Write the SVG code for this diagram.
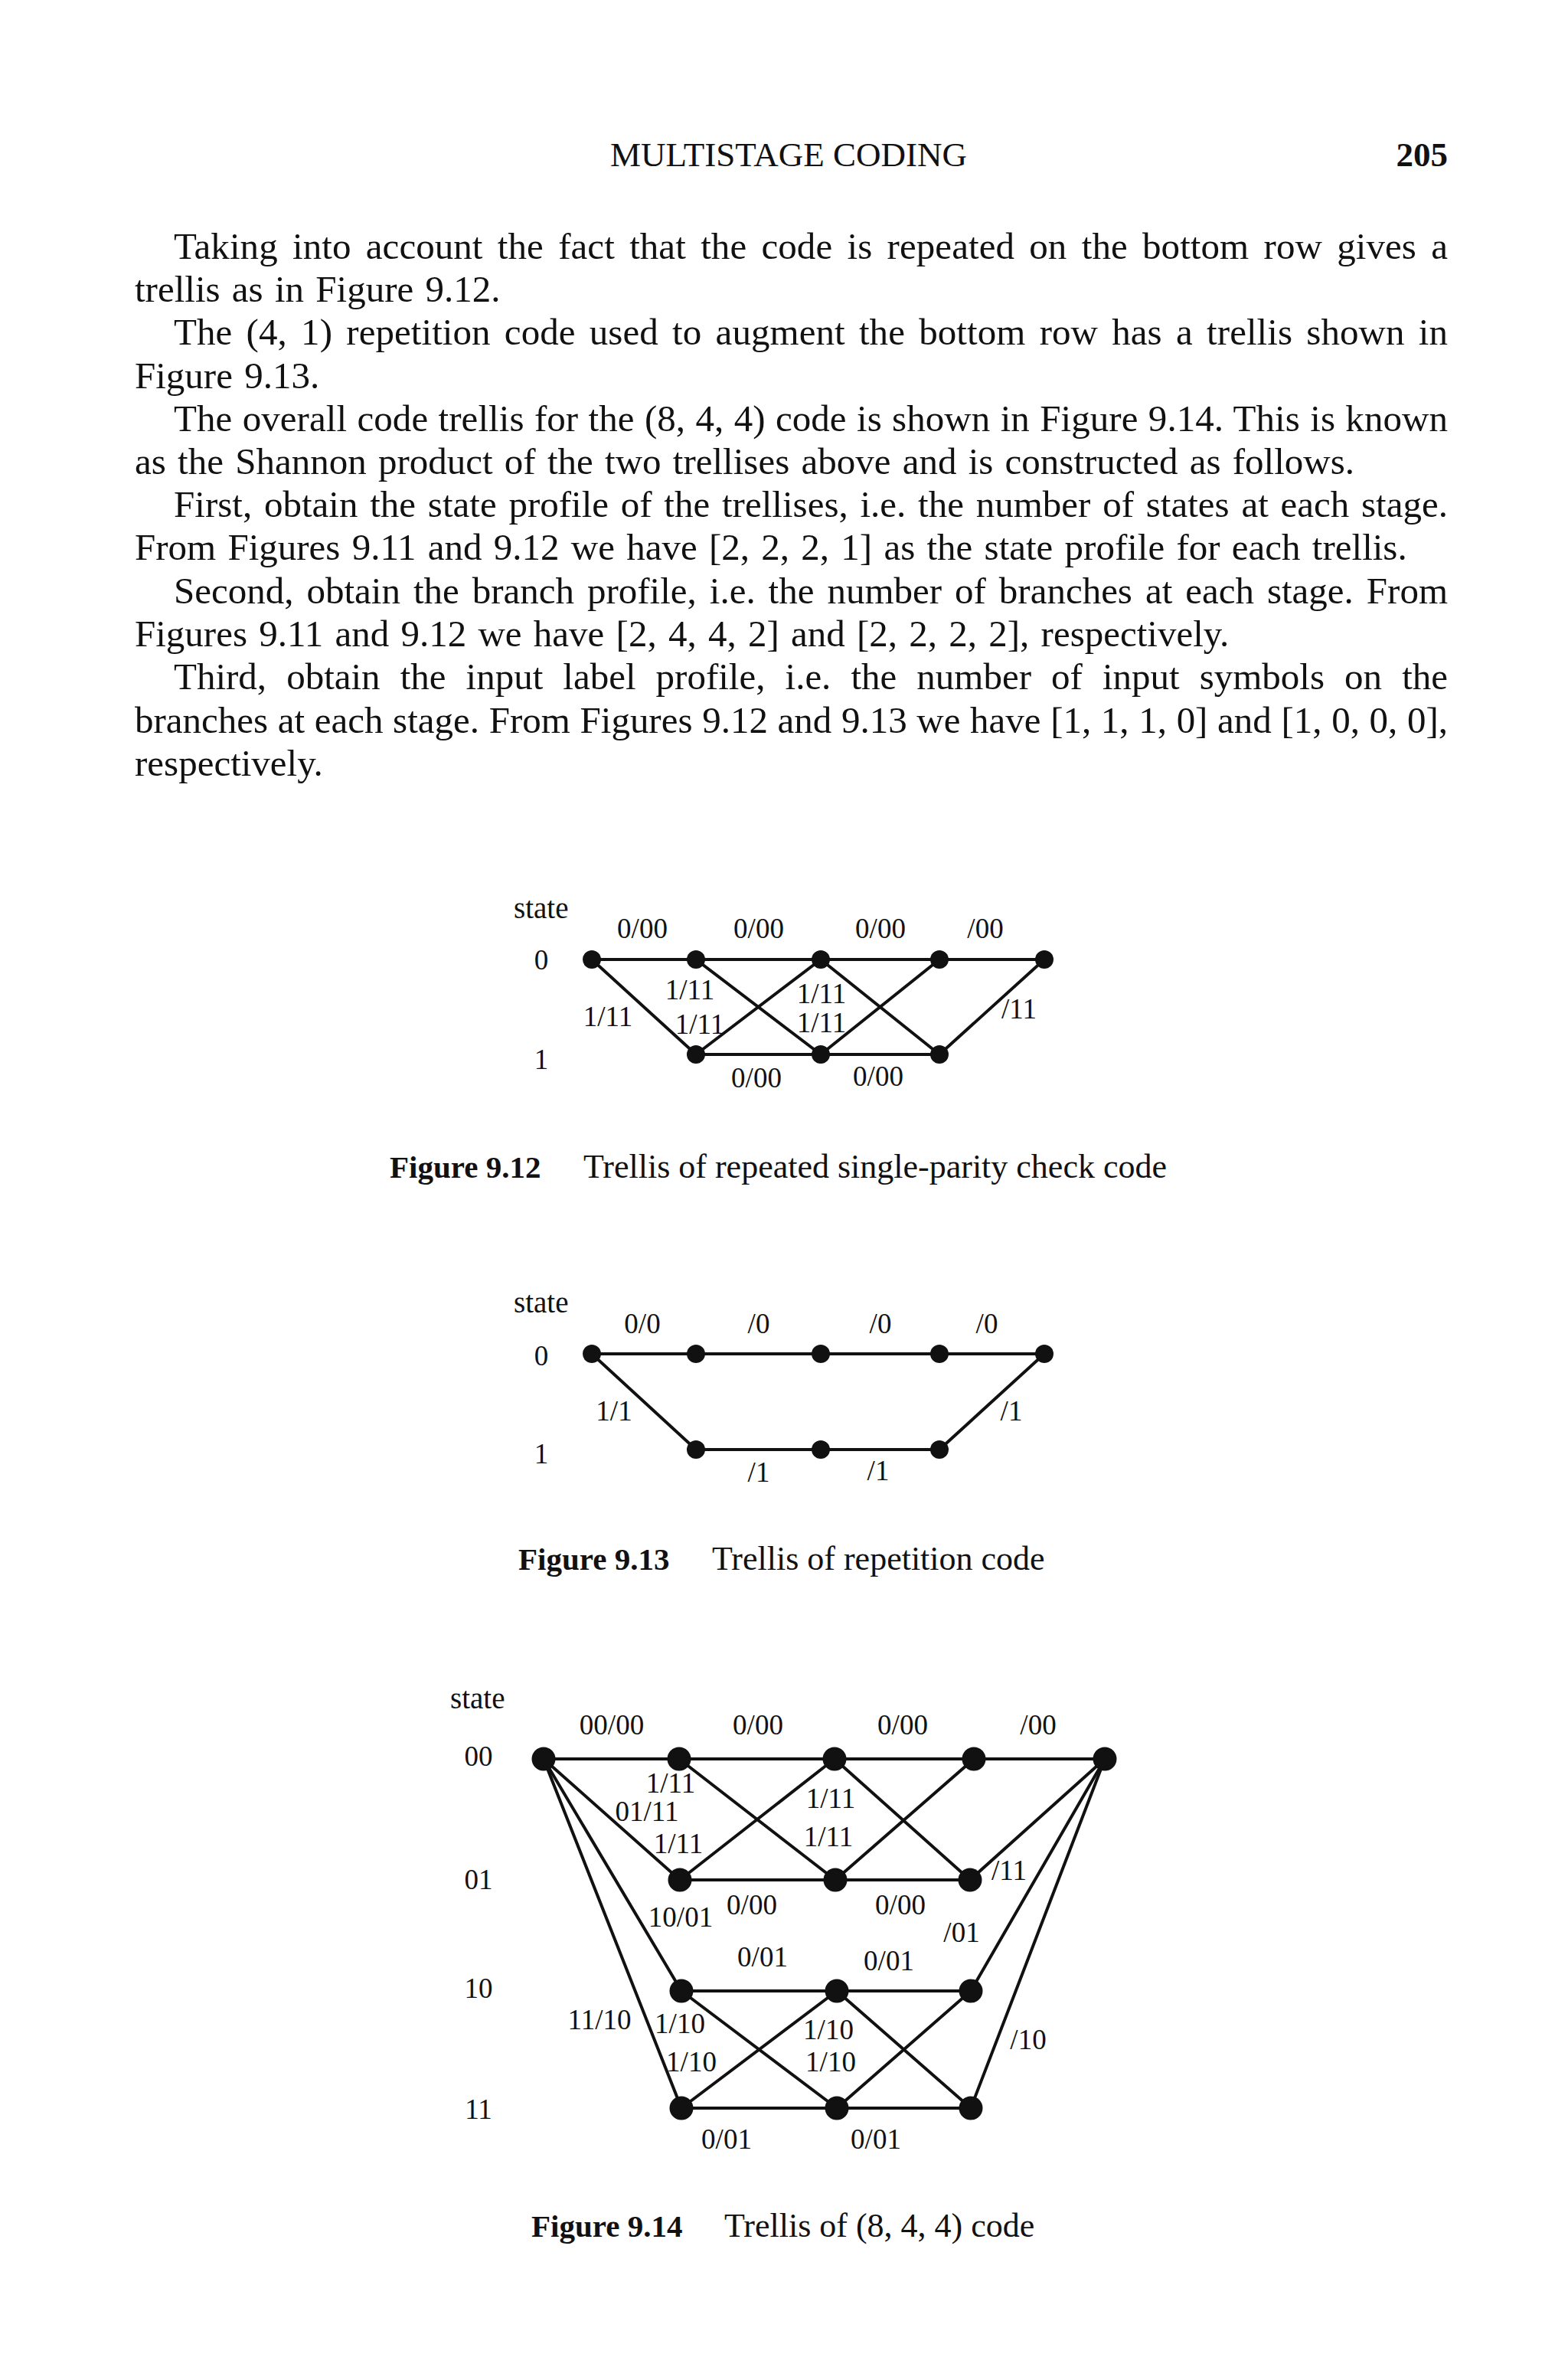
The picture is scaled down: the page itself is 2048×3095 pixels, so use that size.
<svg xmlns="http://www.w3.org/2000/svg" width="2048" height="3095" viewBox="0 0 2048 3095">
<style>
.bg{fill:#fff}
.hd{font-family:"Liberation Serif","Times New Roman",serif;font-size:45px;fill:#111}
.tx{font-family:"Liberation Serif","Times New Roman",serif;font-size:49px;fill:#111;word-spacing:3px}
.lb{font-family:"Liberation Serif","Times New Roman",serif;font-size:37px;fill:#111;text-anchor:middle}
.st{font-family:"Liberation Serif","Times New Roman",serif;font-size:39px;fill:#111}
.cb{font-family:"Liberation Serif","Times New Roman",serif;font-size:41px;font-weight:bold;fill:#111}
.cr{font-family:"Liberation Serif","Times New Roman",serif;font-size:44px;fill:#111}
.e{stroke:#111;stroke-width:4;fill:none;stroke-linecap:round}
.n{fill:#111}
</style>
<rect class="bg" x="0" y="0" width="2048" height="3095"/>

<text class="hd" x="1030" y="217" text-anchor="middle">MULTISTAGE CODING</text>
<text class="hd" x="1891" y="217" text-anchor="end" font-weight="bold">205</text>

<g id="body">
<text class="tx" x="227" y="338" style="word-spacing:7px" textLength="1664" lengthAdjust="spacing">Taking into account the fact that the code is repeated on the bottom row gives a</text>
<text class="tx" x="176" y="394">trellis as in Figure 9.12.</text>
<text class="tx" x="227" y="450" style="word-spacing:6px" textLength="1664" lengthAdjust="spacing">The (4, 1) repetition code used to augment the bottom row has a trellis shown in</text>
<text class="tx" x="176" y="507">Figure 9.13.</text>
<text class="tx" x="227" y="563" style="word-spacing:1px" textLength="1664" lengthAdjust="spacing">The overall code trellis for the (8, 4, 4) code is shown in Figure 9.14. This is known</text>
<text class="tx" x="176" y="619">as the Shannon product of the two trellises above and is constructed as follows.</text>
<text class="tx" x="227" y="675" style="word-spacing:3.5px" textLength="1664" lengthAdjust="spacing">First, obtain the state profile of the trellises, i.e. the number of states at each stage.</text>
<text class="tx" x="176" y="731">From Figures 9.11 and 9.12 we have [2, 2, 2, 1] as the state profile for each trellis.</text>
<text class="tx" x="227" y="788" style="word-spacing:4.7px" textLength="1664" lengthAdjust="spacing">Second, obtain the branch profile, i.e. the number of branches at each stage. From</text>
<text class="tx" x="176" y="844">Figures 9.11 and 9.12 we have [2, 4, 4, 2] and [2, 2, 2, 2], respectively.</text>
<text class="tx" x="227" y="900" style="word-spacing:13.8px" textLength="1664" lengthAdjust="spacing">Third, obtain the input label profile, i.e. the number of input symbols on the</text>
<text class="tx" x="176" y="957" style="word-spacing:0.4px" textLength="1715" lengthAdjust="spacing">branches at each stage. From Figures 9.12 and 9.13 we have [1, 1, 1, 0] and [1, 0, 0, 0],</text>
<text class="tx" x="176" y="1013">respectively.</text>
</g>

<!-- Figure 9.12 -->
<g id="fig912">
<g id="fig912-connectors">
<line class="e" x1="773" y1="1253" x2="909" y2="1253"/>
<line class="e" x1="909" y1="1253" x2="1072" y2="1253"/>
<line class="e" x1="1072" y1="1253" x2="1227" y2="1253"/>
<line class="e" x1="1227" y1="1253" x2="1364" y2="1253"/>
<line class="e" x1="909" y1="1377" x2="1072" y2="1377"/>
<line class="e" x1="1072" y1="1377" x2="1227" y2="1377"/>
<line class="e" x1="773" y1="1253" x2="909" y2="1377"/>
<line class="e" x1="909" y1="1253" x2="1072" y2="1377"/>
<line class="e" x1="909" y1="1377" x2="1072" y2="1253"/>
<line class="e" x1="1072" y1="1253" x2="1227" y2="1377"/>
<line class="e" x1="1072" y1="1377" x2="1227" y2="1253"/>
<line class="e" x1="1227" y1="1377" x2="1364" y2="1253"/>
</g>
<g id="f12-t0"><circle class="n" cx="773" cy="1253" r="12"/></g>
<g id="f12-t1"><circle class="n" cx="909" cy="1253" r="12"/></g>
<g id="f12-t2"><circle class="n" cx="1072" cy="1253" r="12"/></g>
<g id="f12-t3"><circle class="n" cx="1227" cy="1253" r="12"/></g>
<g id="f12-t4"><circle class="n" cx="1364" cy="1253" r="12"/></g>
<g id="f12-b1"><circle class="n" cx="909" cy="1377" r="12"/></g>
<g id="f12-b2"><circle class="n" cx="1072" cy="1377" r="12"/></g>
<g id="f12-b3"><circle class="n" cx="1227" cy="1377" r="12"/></g>
<text class="st" x="671" y="1199">state</text>
<text class="lb" x="707" y="1266">0</text>
<text class="lb" x="707" y="1396">1</text>
<text class="lb" x="839" y="1225">0/00</text>
<text class="lb" x="991" y="1225">0/00</text>
<text class="lb" x="1150" y="1225">0/00</text>
<text class="lb" x="1287" y="1225">/00</text>
<text class="lb" x="794" y="1340">1/11</text>
<text class="lb" x="901" y="1305">1/11</text>
<text class="lb" x="914" y="1350">1/11</text>
<text class="lb" x="1073" y="1310">1/11</text>
<text class="lb" x="1073" y="1348">1/11</text>
<text class="lb" x="1331" y="1330">/11</text>
<text class="lb" x="988" y="1420">0/00</text>
<text class="lb" x="1147" y="1418">0/00</text>
<text class="cb" x="509" y="1538">Figure 9.12</text>
<text class="cr" x="762" y="1538">Trellis of repeated single-parity check code</text>
</g>

<!-- Figure 9.13 -->
<g id="fig913">
<g id="fig913-connectors">
<line class="e" x1="773" y1="1768" x2="909" y2="1768"/>
<line class="e" x1="909" y1="1768" x2="1072" y2="1768"/>
<line class="e" x1="1072" y1="1768" x2="1227" y2="1768"/>
<line class="e" x1="1227" y1="1768" x2="1364" y2="1768"/>
<line class="e" x1="909" y1="1893" x2="1072" y2="1893"/>
<line class="e" x1="1072" y1="1893" x2="1227" y2="1893"/>
<line class="e" x1="773" y1="1768" x2="909" y2="1893"/>
<line class="e" x1="1227" y1="1893" x2="1364" y2="1768"/>
</g>
<g id="f13-t0"><circle class="n" cx="773" cy="1768" r="12"/></g>
<g id="f13-t1"><circle class="n" cx="909" cy="1768" r="12"/></g>
<g id="f13-t2"><circle class="n" cx="1072" cy="1768" r="12"/></g>
<g id="f13-t3"><circle class="n" cx="1227" cy="1768" r="12"/></g>
<g id="f13-t4"><circle class="n" cx="1364" cy="1768" r="12"/></g>
<g id="f13-b1"><circle class="n" cx="909" cy="1893" r="12"/></g>
<g id="f13-b2"><circle class="n" cx="1072" cy="1893" r="12"/></g>
<g id="f13-b3"><circle class="n" cx="1227" cy="1893" r="12"/></g>
<text class="st" x="671" y="1714">state</text>
<text class="lb" x="707" y="1783">0</text>
<text class="lb" x="707" y="1911">1</text>
<text class="lb" x="839" y="1741">0/0</text>
<text class="lb" x="991" y="1741">/0</text>
<text class="lb" x="1150" y="1741">/0</text>
<text class="lb" x="1289" y="1741">/0</text>
<text class="lb" x="802" y="1855">1/1</text>
<text class="lb" x="1321" y="1855">/1</text>
<text class="lb" x="991" y="1935">/1</text>
<text class="lb" x="1147" y="1933">/1</text>
<text class="cb" x="677" y="2050">Figure 9.13</text>
<text class="cr" x="930" y="2050">Trellis of repetition code</text>
</g>

<!-- Figure 9.14 -->
<g id="fig914">
<g id="fig914-connectors">
<line class="e" x1="710" y1="2297" x2="887" y2="2297"/>
<line class="e" x1="887" y1="2297" x2="1090" y2="2297"/>
<line class="e" x1="1090" y1="2297" x2="1272" y2="2297"/>
<line class="e" x1="1272" y1="2297" x2="1443" y2="2297"/>
<line class="e" x1="710" y1="2297" x2="888" y2="2455"/>
<line class="e" x1="710" y1="2297" x2="890" y2="2600"/>
<line class="e" x1="710" y1="2297" x2="890" y2="2753"/>
<line class="e" x1="887" y1="2297" x2="1091" y2="2455"/>
<line class="e" x1="888" y1="2455" x2="1090" y2="2297"/>
<line class="e" x1="1090" y1="2297" x2="1267" y2="2455"/>
<line class="e" x1="1091" y1="2455" x2="1272" y2="2297"/>
<line class="e" x1="888" y1="2455" x2="1091" y2="2455"/>
<line class="e" x1="1091" y1="2455" x2="1267" y2="2455"/>
<line class="e" x1="1267" y1="2455" x2="1443" y2="2297"/>
<line class="e" x1="1268" y1="2600" x2="1443" y2="2297"/>
<line class="e" x1="1268" y1="2753" x2="1443" y2="2297"/>
<line class="e" x1="890" y1="2600" x2="1093" y2="2600"/>
<line class="e" x1="1093" y1="2600" x2="1268" y2="2600"/>
<line class="e" x1="890" y1="2753" x2="1093" y2="2753"/>
<line class="e" x1="1093" y1="2753" x2="1268" y2="2753"/>
<line class="e" x1="890" y1="2600" x2="1093" y2="2753"/>
<line class="e" x1="890" y1="2753" x2="1093" y2="2600"/>
<line class="e" x1="1093" y1="2600" x2="1268" y2="2753"/>
<line class="e" x1="1093" y1="2753" x2="1268" y2="2600"/>
</g>
<g id="f14-00-0"><circle class="n" cx="710" cy="2297" r="15.5"/></g>
<g id="f14-00-1"><circle class="n" cx="887" cy="2297" r="15.5"/></g>
<g id="f14-00-2"><circle class="n" cx="1090" cy="2297" r="15.5"/></g>
<g id="f14-00-3"><circle class="n" cx="1272" cy="2297" r="15.5"/></g>
<g id="f14-00-4"><circle class="n" cx="1443" cy="2297" r="15.5"/></g>
<g id="f14-01-1"><circle class="n" cx="888" cy="2455" r="15.5"/></g>
<g id="f14-01-2"><circle class="n" cx="1091" cy="2455" r="15.5"/></g>
<g id="f14-01-3"><circle class="n" cx="1267" cy="2455" r="15.5"/></g>
<g id="f14-10-1"><circle class="n" cx="890" cy="2600" r="15.5"/></g>
<g id="f14-10-2"><circle class="n" cx="1093" cy="2600" r="15.5"/></g>
<g id="f14-10-3"><circle class="n" cx="1268" cy="2600" r="15.5"/></g>
<g id="f14-11-1"><circle class="n" cx="890" cy="2753" r="15.5"/></g>
<g id="f14-11-2"><circle class="n" cx="1093" cy="2753" r="15.5"/></g>
<g id="f14-11-3"><circle class="n" cx="1268" cy="2753" r="15.5"/></g>
<text class="st" x="588" y="2231">state</text>
<text class="lb" x="625" y="2306">00</text>
<text class="lb" x="625" y="2467">01</text>
<text class="lb" x="625" y="2609">10</text>
<text class="lb" x="625" y="2767">11</text>
<text class="lb" x="799" y="2265">00/00</text>
<text class="lb" x="990" y="2265">0/00</text>
<text class="lb" x="1179" y="2265">0/00</text>
<text class="lb" x="1356" y="2265">/00</text>
<text class="lb" x="876" y="2341">1/11</text>
<text class="lb" x="845" y="2378">01/11</text>
<text class="lb" x="886" y="2420">1/11</text>
<text class="lb" x="1085" y="2361">1/11</text>
<text class="lb" x="1082" y="2411">1/11</text>
<text class="lb" x="1318" y="2455">/11</text>
<text class="lb" x="889" y="2516">10/01</text>
<text class="lb" x="982" y="2500">0/00</text>
<text class="lb" x="1176" y="2500">0/00</text>
<text class="lb" x="1256" y="2536">/01</text>
<text class="lb" x="996" y="2568">0/01</text>
<text class="lb" x="1161" y="2573">0/01</text>
<text class="lb" x="783" y="2650">11/10</text>
<text class="lb" x="888" y="2655">1/10</text>
<text class="lb" x="1082" y="2663">1/10</text>
<text class="lb" x="1343" y="2676">/10</text>
<text class="lb" x="903" y="2705">1/10</text>
<text class="lb" x="1085" y="2705">1/10</text>
<text class="lb" x="949" y="2806">0/01</text>
<text class="lb" x="1144" y="2806">0/01</text>
<text class="cb" x="694" y="2921">Figure 9.14</text>
<text class="cr" x="946" y="2921">Trellis of (8, 4, 4) code</text>
</g>
</svg>
